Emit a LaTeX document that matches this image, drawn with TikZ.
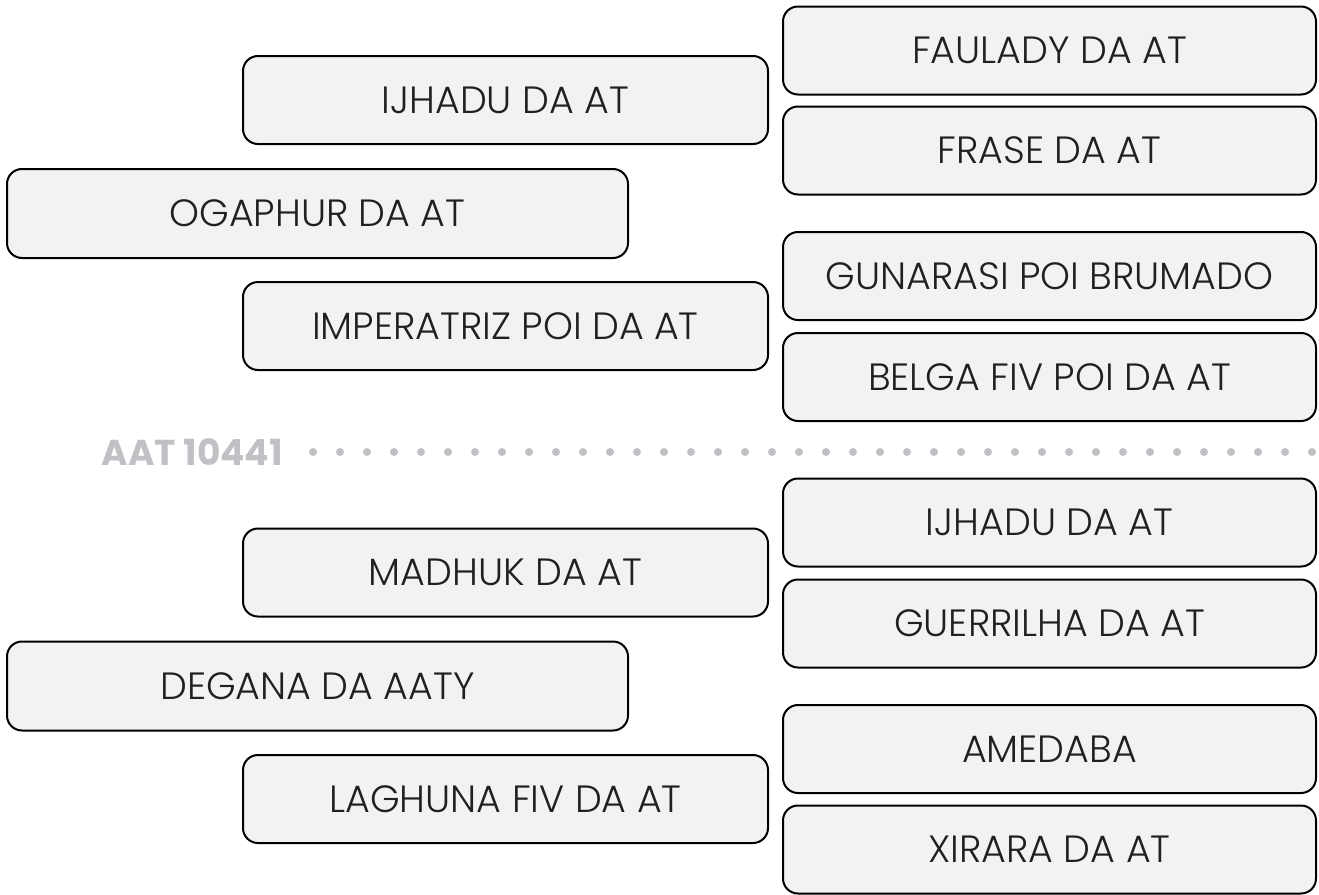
\documentclass[tikz,border=0pt]{standalone}
\usepackage{fontspec}
\setmainfont{Poppins}[UprightFont=* Light, BoldFont=* Bold]
\definecolor{boxfill}{HTML}{F1F2F4}
\definecolor{dotgray}{HTML}{C0C1C4}
\definecolor{txt}{HTML}{231F20}
\begin{document}
\begin{tikzpicture}[x=1pt,y=-1pt,
  box/.style={draw=black, line width=2pt, fill=boxfill, rounded corners=15pt,
    inner sep=0pt, text=txt, font=\fontsize{38}{44}\selectfont},
  rbox/.style={box, minimum width=533pt, minimum height=88pt},
  mbox/.style={box, minimum width=525pt, minimum height=88pt},
  lbox/.style={box, minimum width=621pt, minimum height=89pt},
  sep/.style={text=dotgray, font=\fontsize{36}{42}\selectfont\bfseries, inner sep=0pt}
]
\useasboundingbox (0,0) rectangle (1319,894);
% top group
\node[rbox] (faulady) at (1049.5,50.5) {FAULADY DA AT};
\node[rbox] (frase) at (1049.5,150.5) {FRASE DA AT};
\node[mbox] (ijhadu1) at (505.5,100) {IJHADU DA AT};
\node[lbox] (ogaphur) at (317.5,213.5) {OGAPHUR DA AT};
\node[rbox] (gunarasi) at (1049.5,276) {GUNARASI POI BRUMADO};
\node[mbox] (imperatriz) at (505.5,326) {IMPERATRIZ POI DA AT};
\node[rbox] (belga) at (1049.5,377) {BELGA FIV POI DA AT};
% separator
\node[sep, anchor=east] (aat) at (283,452) {AAT 10441};
\foreach \i in {0,...,37} \fill[dotgray] (313+27*\i,452) circle (4pt);
% bottom group
\node[rbox] (ijhadu2) at (1049.5,522.5) {IJHADU DA AT};
\node[mbox] (madhuk) at (505.5,572.5) {MADHUK DA AT};
\node[rbox] (guerrilha) at (1049.5,623.5) {GUERRILHA DA AT};
\node[lbox] (degana) at (317.5,686) {DEGANA DA AATY};
\node[rbox] (amedaba) at (1049.5,749) {AMEDABA};
\node[mbox] (laghuna) at (505.5,799) {LAGHUNA FIV DA AT};
\node[rbox] (xirara) at (1049.5,849.5) {XIRARA DA AT};
\end{tikzpicture}
\end{document}
